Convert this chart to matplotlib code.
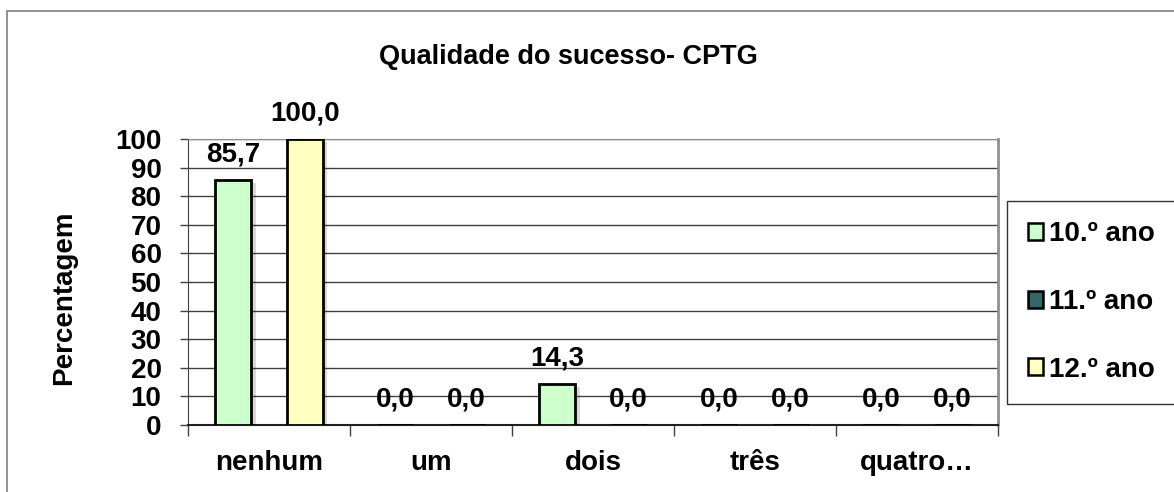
import matplotlib.pyplot as plt
import matplotlib.patches as mpatches
import matplotlib.patheffects as pe
import numpy as np

categories = ["nenhum", "um", "dois", "três", "quatro…"]
series_names = ["10.º ano", "11.º ano", "12.º ano"]
ano10 = [85.7, 0.0, 14.3, 0.0, 0.0]
ano11 = [None, None, None, None, None]   # no data for 11.º ano
ano12 = [100.0, 0.0, 0.0, 0.0, 0.0]
colors = ["#CCFFCC", "#336666", "#FFFFC0"]

plt.rcParams['font.family'] = ['Liberation Sans', 'DejaVu Sans']
plt.rcParams['font.weight'] = 'bold'

fig = plt.figure(figsize=(11.74, 4.92), dpi=100)
ax = fig.add_axes([188 / 1174, 67 / 492, 810 / 1174, 286 / 492])

# outer chart border
fig.patches.append(mpatches.Rectangle((7 / 1174, -0.1), 1.2, 1 - 11 / 492 + 0.1,
                                      transform=fig.transFigure, fill=False,
                                      edgecolor='#808080', linewidth=1.2))

x = np.arange(len(categories))
width = 0.222
offsets = [-0.22, 0.0, 0.22]
shadow = [pe.SimplePatchShadow(offset=(3, -2), shadow_rgbFace='black', alpha=0.15), pe.Normal()]

handles = []
for vals, off, col, name in zip([ano10, ano11, ano12], offsets, colors, series_names):
    xs = [xi + off for xi, v in zip(x, vals) if v is not None]
    hs = [v for v in vals if v is not None]
    if xs:
        bars = ax.bar(xs, hs, width=width, color=col, edgecolor='black', linewidth=2, zorder=3)
        for b, v in zip(bars, hs):
            if v > 0:
                b.set_path_effects(shadow)
        for xi, v in zip(xs, hs):
            ax.annotate(f"{v:.1f}".replace('.', ','), (xi, v), xytext=(0, 9),
                        textcoords='offset points', ha='center', va='bottom',
                        fontsize=20, fontweight='bold', zorder=5)
    handles.append(mpatches.Patch(facecolor=col, edgecolor='black', linewidth=1.8, label=name))

ax.set_xlim(-0.5, len(categories) - 0.5)
ax.set_ylim(0, 100)
ax.set_yticks(range(0, 101, 10))
ax.set_yticklabels([str(v) for v in range(0, 101, 10)], fontsize=20, fontweight='bold')
ax.set_xticks(x)
ax.set_xticklabels(categories, fontsize=20, fontweight='bold')
ax.set_xticks(np.arange(-0.5, len(categories), 1.0), minor=True)
ax.tick_params(axis='x', which='major', length=0, pad=18)
ax.tick_params(axis='x', which='minor', length=8, width=1, color='#404040')
ax.tick_params(axis='y', length=6, width=1, pad=13, color='#404040')
ax.yaxis.grid(True, color='#404040', linewidth=1, zorder=0)

ax.spines['left'].set_color('#404040')
ax.spines['bottom'].set_color('#202020')
ax.spines['bottom'].set_linewidth(1.5)
ax.spines['top'].set_color('#909090')
ax.spines['right'].set_color('#909090')
ax.spines['right'].set_linewidth(2)

fig.text(64 / 1174, 1 - 298 / 492, "Percentagem", rotation=90, ha='center', va='center',
         fontsize=20, fontweight='bold')
fig.text(568 / 1174, 1 - 57 / 492, "Qualidade do sucesso- CPTG", ha='center', va='center',
         fontsize=19.5, fontweight='bold')

leg = fig.legend(handles=handles, loc='center left', bbox_to_anchor=(1007 / 1174, 1 - 302 / 492),
                 frameon=True, fancybox=False, edgecolor='black',
                 handlelength=0.55, handleheight=0.55, handletextpad=0.2,
                 labelspacing=1.5, borderpad=0.75, borderaxespad=0,
                 prop={'weight': 'bold', 'size': 20})
leg.get_frame().set_linewidth(1.0)

plt.savefig("out.png", dpi=100)
